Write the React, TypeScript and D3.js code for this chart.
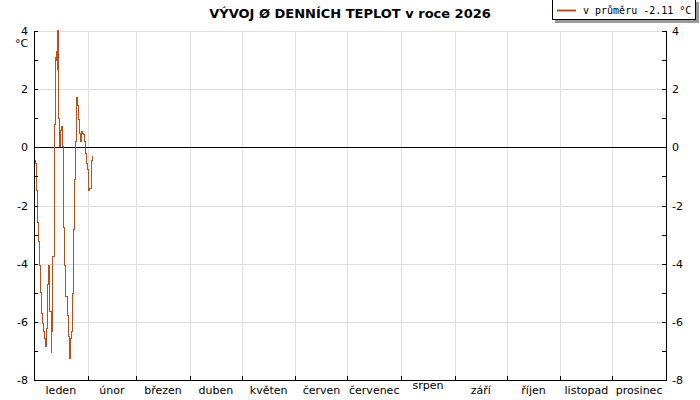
import React from "react";
import * as d3 from "d3";

const TITLE = "VÝVOJ Ø DENNÍCH TEPLOT v roce 2026";
const LEGEND = "v průměru -2.11 °C";
const UNIT = "°C";

const months = ["leden", "únor", "březen", "duben", "květen", "červen", "červenec", "srpen", "září", "říjen", "listopad", "prosinec"];
const monthStarts = [0, 31, 59, 90, 120, 151, 181, 212, 243, 273, 304, 334, 365];

const yTicks = [4, 2, 0, -2, -4, -6, -8];
const yMinorTicks = [3, 1, -1, -3, -5, -7];

const days = [0.0, 0.58, 1.16, 1.91, 2.48, 3.06, 3.64, 4.22, 4.79, 5.37, 5.95, 6.53, 6.93, 7.33, 7.91, 8.26, 8.84, 9.24, 9.82, 10.22, 10.8, 11.72, 12.13, 12.71, 13.11, 13.46, 13.86, 14.27, 14.84, 15.19, 15.77, 16.34, 16.92, 17.9, 18.48, 19.06, 19.64, 20.21, 20.79, 21.2, 21.77, 22.35, 22.7, 23.27, 23.68, 24.43, 24.83, 25.24, 25.58, 26.16, 26.74, 27.32, 27.89, 28.47, 29.05, 29.63, 30.2, 30.78, 31.19, 31.76, 32.34, 32.92, 33.49, 34.07];
const temps = [-0.44, -0.54, -1.47, -2.6, -3.25, -4.05, -5.0, -5.7, -6.05, -6.34, -6.56, -6.8, -6.85, -6.22, -4.73, -4.05, -4.15, -5.65, -7.07, -6.34, -3.76, 0.8, 3.1, 3.0, 3.29, 2.66, 4.03, 1.0, 0.02, 0.59, 0.7, 0.02, -2.77, -4.05, -5.14, -5.77, -5.85, -6.51, -7.25, -6.57, -6.34, -5.01, -2.84, -1.1, 0.19, 1.28, 1.72, 1.45, 0.94, 0.49, 0.19, 0.54, 0.49, 0.43, 0.19, -0.2, -0.54, -0.77, -1.12, -1.47, -1.42, -1.08, -0.44, -0.3];

const LINE_COLOR = "#b9501c";
const FONT = "DejaVu Sans, sans-serif";

export default function App() {
  const W = 700, H = 400;
  const left = 34, right = 666, top = 31, bottom = 380;
  const x = d3.scaleLinear().domain([0, 365]).range([left, right]);
  const y = d3.scaleLinear().domain([-8, 4]).range([bottom, top]);
  const pts = days.map((d, i) => [d, temps[i]] as [number, number]);
  const line = d3.line<[number, number]>()
    .x(d => x(d[0]))
    .y(d => y(d[1]))
    .curve(d3.curveStepAfter);

  return (
    <svg width={W} height={H} style={{ position: "absolute", left: 0, top: 0, background: "#fff" }} fontFamily={FONT}>
      <rect x={0} y={0} width={W} height={H} fill="#fff" />
      {yTicks.map(t => (
        <line key={"g" + t} x1={left} x2={right} y1={Math.round(y(t)) + 0.5} y2={Math.round(y(t)) + 0.5} stroke="#dddddd" />
      ))}
      {monthStarts.slice(1, 12).map(m => (
        <line key={"vg" + m} x1={Math.round(x(m)) + 0.5} x2={Math.round(x(m)) + 0.5} y1={top} y2={bottom} stroke="#dddddd" />
      ))}
      <line x1={left} x2={right} y1={Math.round(y(0)) + 0.5} y2={Math.round(y(0)) + 0.5} stroke="#000" />
      <path d={line(pts) || ""} fill="none" stroke={LINE_COLOR} strokeWidth={1} shapeRendering="crispEdges" />
      <line x1={left + 0.5} x2={left + 0.5} y1={top} y2={bottom + 1} stroke="#000" />
      <line x1={right + 0.5} x2={right + 0.5} y1={top} y2={bottom + 1} stroke="#000" />
      <line x1={left} x2={right + 1} y1={bottom + 0.5} y2={bottom + 0.5} stroke="#000" />
      {[...yTicks, ...yMinorTicks].map(t => (
        <g key={"t" + t}>
          <line x1={left} x2={left + 4} y1={Math.round(y(t)) + 0.5} y2={Math.round(y(t)) + 0.5} stroke="#000" />
          <line x1={right - 4} x2={right + 1} y1={Math.round(y(t)) + 0.5} y2={Math.round(y(t)) + 0.5} stroke="#000" />
        </g>
      ))}
      {yTicks.map(t => (
        <g key={"l" + t} fontSize={11} fill="#000">
          <text x={28} y={y(t) + 4} textAnchor="end">{t}</text>
          <text x={672} y={y(t) + 4} textAnchor="start">{t}</text>
        </g>
      ))}
      <text x={15} y={47} fontSize={11} fill="#000">{UNIT}</text>
      {monthStarts.slice(1, 12).map(m => (
        <line key={"mt" + m} x1={Math.round(x(m)) + 0.5} x2={Math.round(x(m)) + 0.5} y1={bottom - 4} y2={bottom} stroke="#000" />
      ))}
      {months.map((name, i) => (
        <text key={name} x={x((monthStarts[i] + monthStarts[i + 1]) / 2)} y={name === "srpen" ? 389 : 393.5} fontSize={11} textAnchor="middle" fill="#000">{name}</text>
      ))}
      <text x={350} y={18} fontSize={13} fontWeight="bold" textAnchor="middle" fill="#000">{TITLE}</text>
      <rect x={555} y={2} width={144} height={21} fill="#999" />
      <rect x={552.5} y={-0.5} width={143} height={20} fill="#fff" stroke="#000" />
      <line x1={557} x2={576} y1={10.5} y2={10.5} stroke={LINE_COLOR} strokeWidth={2} />
      <text x={583} y={14} fontSize={10} fontFamily="DejaVu Sans Mono, monospace" fill="#000">{LEGEND}</text>
    </svg>
  );
}
